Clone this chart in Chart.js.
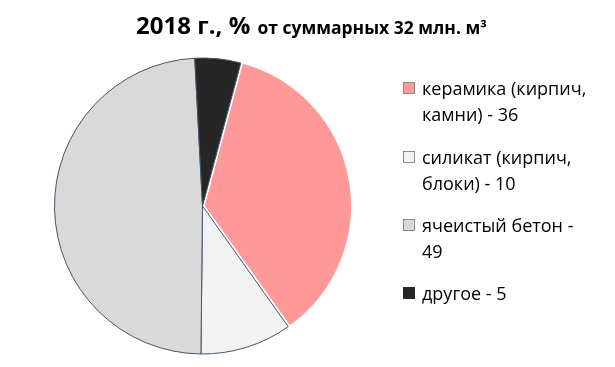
<!DOCTYPE html>
<html>
<head>
<meta charset="utf-8">
<script src="https://cdn.jsdelivr.net/npm/chart.js@4"></script>
<style>
  html, body { margin: 0; padding: 0; background: #fff; }
  #wrap { position: relative; width: 615px; height: 367px; overflow: hidden; font-family: "Open Sans", sans-serif; color: #000; }
  #pie { position: absolute; left: 0; top: 0; }
  #title { position: absolute; left: 0; width: 623px; top: 8px; text-align: center; font-weight: bold; white-space: nowrap; }
  #title .big { font-size: 24px; }
  #title .small { font-size: 17.5px; margin-left: 3px; }
  #legend { position: absolute; left: 403px; top: 0; }
  .item { position: absolute; left: 0; white-space: nowrap; }
  .box { position: absolute; left: 0; width: 10px; height: 10px; border: 1px solid #8a8a8a; }
  .txt { position: absolute; left: 19px; font-size: 18px; line-height: 26px; }
</style>
</head>
<body>
<div id="wrap">
  <canvas id="pie" width="615" height="367"></canvas>
  <div id="title"><span class="big">2018 г., %</span> <span class="small">от суммарных 32 млн. м³</span></div>
  <div id="legend"></div>
</div>
<script>
const categories = ['керамика (кирпич, камни)', 'силикат (кирпич, блоки)', 'ячеистый бетон', 'другое'];
const shares = [36, 10, 49, 5];
const legendLines = [
  ['керамика (кирпич,', 'камни) - 36'],
  ['силикат (кирпич,', 'блоки) - 10'],
  ['ячеистый бетон -', '49'],
  ['другое - 5']
];
const colors = ['#ff9999', '#f2f2f2', '#d9d9d9', '#262626'];
const borders = ['#ffffff', '#44546a', '#44546a', '#44546a'];

const ctx = document.getElementById('pie');
const chart = new Chart(ctx, {
  type: 'pie',
  data: {
    labels: categories,
    datasets: [{
      data: shares,
      backgroundColor: colors,
      borderColor: borders,
      borderWidth: [2, 1, 1, 1],
      offset: [5, 0, 0, 0]
    }]
  },
  options: {
    responsive: false,
    animation: false,
    rotation: 15,
    radius: 148,
    layout: { padding: { left: 47, right: 257, top: 50, bottom: 5 } },
    plugins: {
      legend: { display: false },
      title: { display: false },
      tooltip: { enabled: false }
    }
  }
});

// legend built from the chart data
const legendEl = document.getElementById('legend');
const itemTops = [88, 157, 225, 293];
chart.data.labels.forEach((lab, i) => {
  const item = document.createElement('div');
  item.className = 'item';
  item.style.top = (itemTops[i] - 13) + 'px';
  const box = document.createElement('div');
  box.className = 'box';
  box.style.top = '7px';
  box.style.background = colors[i];
  if (i === 3) box.style.borderColor = '#262626';
  const txt = document.createElement('div');
  txt.className = 'txt';
  txt.innerHTML = legendLines[i].join('<br>');
  item.append(box, txt);
  legendEl.appendChild(item);
});
</script>
</body>
</html>
